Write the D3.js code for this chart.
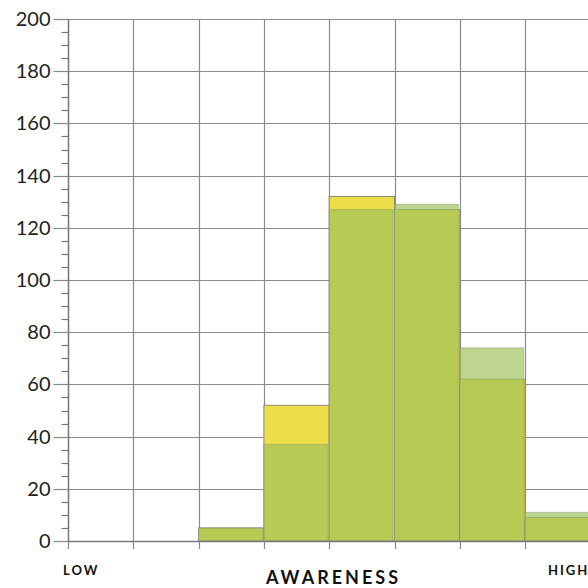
<!DOCTYPE html>
<html>
<head>
<meta charset="utf-8">
<script src="https://cdn.jsdelivr.net/npm/d3@7"></script>
<style>
  body { margin: 0; background: #fff; }
  svg { display: block; }
</style>
</head>
<body>
<div id="chart"></div>
<script>
// Histogram data: one count per awareness bin (8 bins, LOW -> HIGH)
const bins = [0, 1, 2, 3, 4, 5, 6, 7];
const yellowCounts = [0, 0, 5, 52, 132, 127, 62, 9];
const greenCounts = [0, 0, 5, 37, 127, 129, 74, 11];
const yTicks = [0, 20, 40, 60, 80, 100, 120, 140, 160, 180, 200];

const W = 588, H = 588;
const plotLeft = 68, plotTop = 19, plotBottom = 541;
const binW = 65.3;

const svg = d3.select("#chart")
  .append("svg")
  .attr("width", W)
  .attr("height", H);

const x = d3.scaleLinear()
  .domain([0, bins.length])
  .range([plotLeft, plotLeft + bins.length * binW]);

const y = d3.scaleLinear()
  .domain([0, 200])
  .range([plotBottom, plotTop]);

const gridColor = "#8a8a8a";

// Gridlines
svg.append("g")
  .selectAll("line")
  .data(yTicks)
  .join("line")
  .attr("x1", plotLeft)
  .attr("x2", W)
  .attr("y1", d => Math.round(y(d)) + 0.5)
  .attr("y2", d => Math.round(y(d)) + 0.5)
  .attr("stroke", gridColor)
  .attr("stroke-width", 1.2);

svg.append("g")
  .selectAll("line")
  .data(d3.range(1, bins.length + 1))
  .join("line")
  .attr("x1", d => Math.round(x(d)) + 0.5)
  .attr("x2", d => Math.round(x(d)) + 0.5)
  .attr("y1", plotTop)
  .attr("y2", plotBottom)
  .attr("stroke", gridColor)
  .attr("stroke-width", 1.2);

// Yellow series (drawn first)
svg.append("g")
  .selectAll("rect")
  .data(bins)
  .join("rect")
  .attr("x", d => x(d))
  .attr("y", d => y(yellowCounts[d]))
  .attr("width", binW)
  .attr("height", d => plotBottom - y(yellowCounts[d]))
  .attr("fill", "#eddd47")
  .attr("stroke", "#8a8a7a")
  .attr("stroke-width", 1);

// Green series, semi-transparent over the yellow one
svg.append("g")
  .selectAll("rect")
  .data(bins)
  .join("rect")
  .attr("x", d => x(d))
  .attr("y", d => y(greenCounts[d]))
  .attr("width", binW - 1.5)
  .attr("height", d => plotBottom - y(greenCounts[d]))
  .attr("fill", "#9ec159")
  .attr("fill-opacity", 0.68)
  .attr("stroke", "#8a9a7a")
  .attr("stroke-opacity", 0.5)
  .attr("stroke-width", 1);

// Y axis with minor ticks
const yAxis = svg.append("g")
  .attr("transform", `translate(${plotLeft + 0.5},0)`);

yAxis.append("line")
  .attr("y1", plotTop)
  .attr("y2", plotBottom)
  .attr("stroke", "#777")
  .attr("stroke-width", 1.5);

yAxis.selectAll("line.minor")
  .data(d3.range(0, 201, 5).filter(d => d % 20 !== 0))
  .join("line")
  .attr("class", "minor")
  .attr("x1", -7)
  .attr("x2", 0)
  .attr("y1", d => Math.round(y(d)) + 0.5)
  .attr("y2", d => Math.round(y(d)) + 0.5)
  .attr("stroke", "#777")
  .attr("stroke-width", 1.2);

yAxis.selectAll("line.major")
  .data(yTicks)
  .join("line")
  .attr("class", "major")
  .attr("x1", -15)
  .attr("x2", 0)
  .attr("y1", d => Math.round(y(d)) + 0.5)
  .attr("y2", d => Math.round(y(d)) + 0.5)
  .attr("stroke", "#888")
  .attr("stroke-width", 1.2);

yAxis.selectAll("text")
  .data(yTicks)
  .join("text")
  .attr("x", -18)
  .attr("y", d => y(d))
  .attr("dy", "0.35em")
  .attr("text-anchor", "end")
  .style("font-family", "Lato, sans-serif")
  .style("font-size", "20px")
  .style("fill", "#222")
  .text(d => d);

// X axis
const xAxis = svg.append("g");

xAxis.append("line")
  .attr("x1", plotLeft)
  .attr("x2", W)
  .attr("y1", plotBottom + 0.5)
  .attr("y2", plotBottom + 0.5)
  .attr("stroke", "#777")
  .attr("stroke-width", 1.5);

xAxis.selectAll("line.tick")
  .data(d3.range(0, bins.length + 1))
  .join("line")
  .attr("class", "tick")
  .attr("x1", d => Math.round(x(d)) + 0.5)
  .attr("x2", d => Math.round(x(d)) + 0.5)
  .attr("y1", plotBottom)
  .attr("y2", plotBottom + 8)
  .attr("stroke", "#888")
  .attr("stroke-width", 1.2);

// Axis labels
svg.append("text")
  .attr("x", 63)
  .attr("y", 575)
  .style("font-family", "Lato, sans-serif")
  .style("font-weight", "bold")
  .style("font-size", "13px")
  .style("letter-spacing", "2px")
  .style("fill", "#111")
  .text("LOW");

svg.append("text")
  .attr("x", 548)
  .attr("y", 575)
  .style("font-family", "Lato, sans-serif")
  .style("font-weight", "bold")
  .style("font-size", "13px")
  .style("letter-spacing", "2px")
  .style("fill", "#111")
  .text("HIGH");

svg.append("text")
  .attr("x", 333.5)
  .attr("y", 584)
  .attr("text-anchor", "middle")
  .style("font-family", "Lato, sans-serif")
  .style("font-weight", "bold")
  .style("font-size", "18px")
  .style("letter-spacing", "3px")
  .style("fill", "#111")
  .text("AWARENESS");
</script>
</body>
</html>
